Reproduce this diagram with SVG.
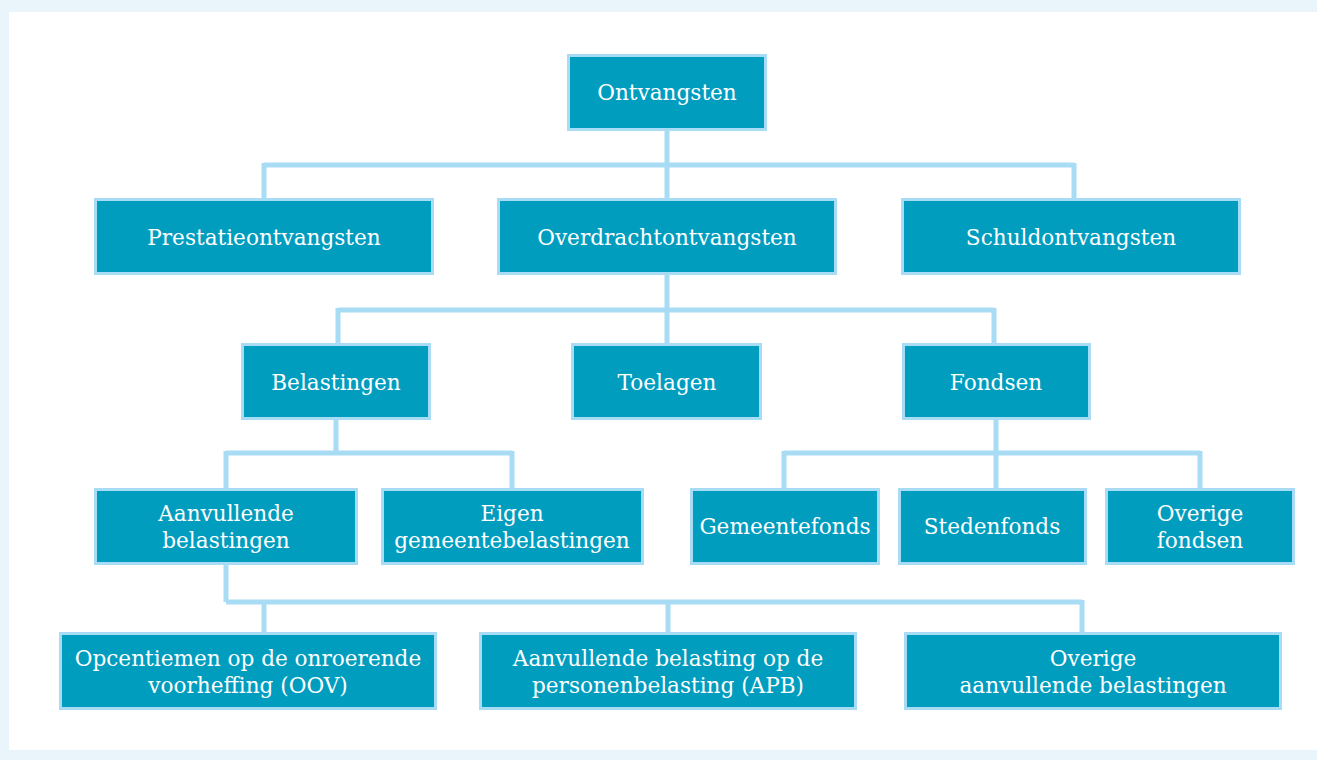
<svg xmlns="http://www.w3.org/2000/svg" width="1317" height="760" viewBox="0 0 1317 760">
<style>
.bg{fill:#EAF4FB}
.node rect{fill:#009DBF;stroke:#A8DCF4;stroke-width:3}
.node text{fill:#FFFFFF;font-family:"DejaVu Serif","Liberation Serif",serif;font-size:21.6px;text-anchor:middle}
#connectors path{fill:none;stroke:#A8DCF4;stroke-width:5}
</style>
<rect class="bg" x="0" y="0" width="1317" height="760"/>
<rect x="9" y="12" width="1308" height="738" fill="#FFFFFF"/>
<g id="connectors">
<path d="M667 130V165M264 165H1074M264 163V199M667 165V199M1074 163V199"/>
<path d="M667 274V310M338 310H994M338 308V344M667 310V344M994 308V344"/>
<path d="M336 419V453M226 453H512M226 451V489M512 451V489"/>
<path d="M996 419V453M784 453H1200M784 451V489M996 453V489M1200 451V489"/>
<path d="M226 564V602M226 602H1082M264 602V633M668 602V633M1082 600V633"/>
</g>
<g id="n-ontvangsten" class="node"><rect x="568.5" y="55.5" width="197" height="74"/><text x="667" y="100">Ontvangsten</text></g>
<g id="n-prestatie" class="node"><rect x="95.5" y="199.5" width="337" height="74"/><text x="264" y="245">Prestatieontvangsten</text></g>
<g id="n-overdracht" class="node"><rect x="498.5" y="199.5" width="337" height="74"/><text x="667" y="245">Overdrachtontvangsten</text></g>
<g id="n-schuld" class="node"><rect x="902.5" y="199.5" width="337" height="74"/><text x="1071" y="245">Schuldontvangsten</text></g>
<g id="n-belastingen" class="node"><rect x="242.5" y="344.5" width="187" height="74"/><text x="336" y="390">Belastingen</text></g>
<g id="n-toelagen" class="node"><rect x="572.5" y="344.5" width="188" height="74"/><text x="667" y="390">Toelagen</text></g>
<g id="n-fondsen" class="node"><rect x="903.5" y="344.5" width="186" height="74"/><text x="996" y="390">Fondsen</text></g>
<g id="n-aanvullende" class="node"><rect x="95.5" y="489.5" width="261" height="74"/><text x="226" y="521">Aanvullende</text><text x="226" y="548">belastingen</text></g>
<g id="n-eigen" class="node"><rect x="382.5" y="489.5" width="260" height="74"/><text x="512" y="521">Eigen</text><text x="512" y="548">gemeentebelastingen</text></g>
<g id="n-gemeentefonds" class="node"><rect x="691.5" y="489.5" width="187" height="74"/><text x="785" y="534">Gemeentefonds</text></g>
<g id="n-stedenfonds" class="node"><rect x="899.5" y="489.5" width="186" height="74"/><text x="992" y="534">Stedenfonds</text></g>
<g id="n-overigefondsen" class="node"><rect x="1106.5" y="489.5" width="187" height="74"/><text x="1200" y="521">Overige</text><text x="1200" y="548">fondsen</text></g>
<g id="n-oov" class="node"><rect x="60.5" y="633.5" width="375" height="75"/><text x="248" y="666">Opcentiemen op de onroerende</text><text x="248" y="693">voorheffing (OOV)</text></g>
<g id="n-apb" class="node"><rect x="480.5" y="633.5" width="375" height="75"/><text x="668" y="666">Aanvullende belasting op de</text><text x="668" y="693">personenbelasting (APB)</text></g>
<g id="n-overigeaanv" class="node"><rect x="905.5" y="633.5" width="375" height="75"/><text x="1093" y="666">Overige</text><text x="1093" y="693">aanvullende belastingen</text></g>
</svg>
